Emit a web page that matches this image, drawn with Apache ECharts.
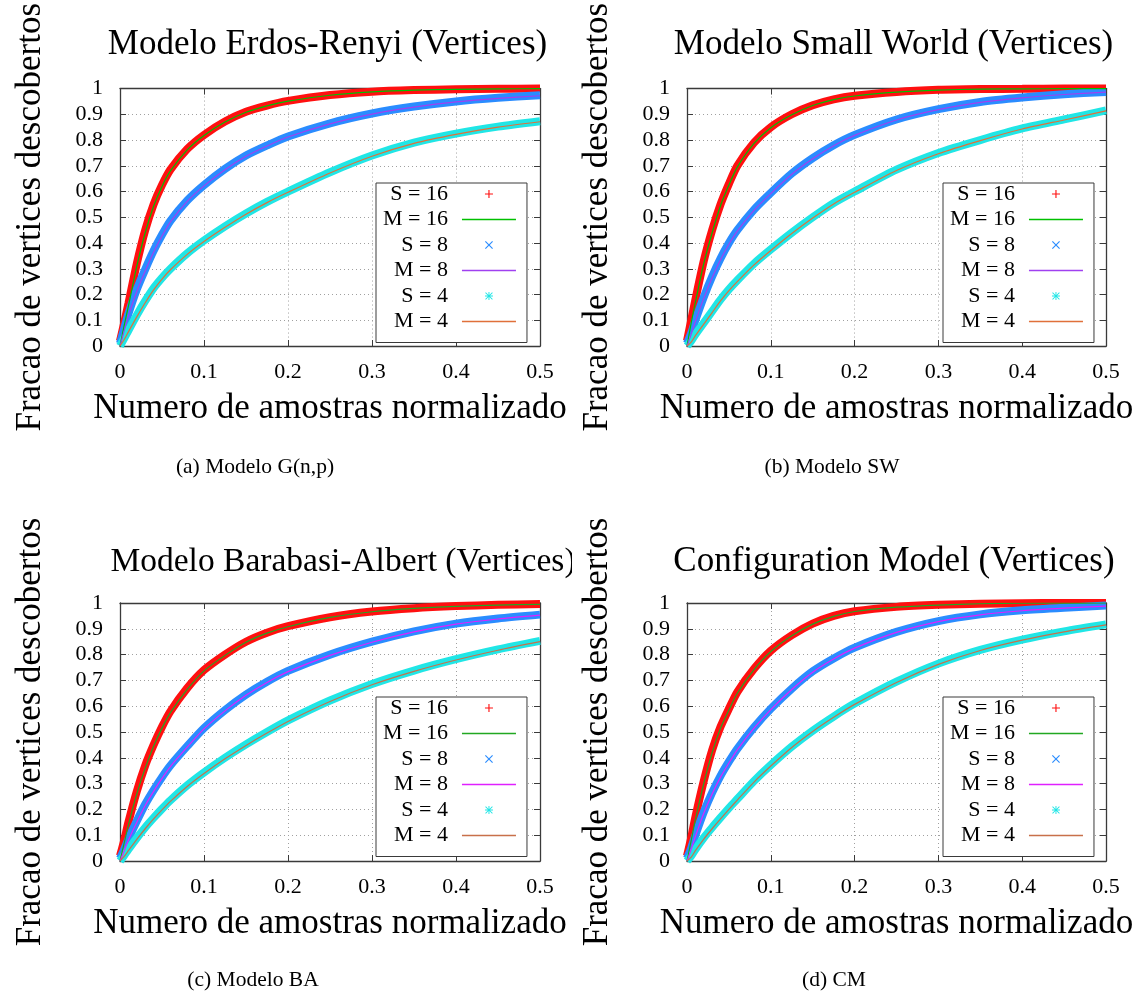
<!DOCTYPE html>
<html><head><meta charset="utf-8">
<script src="https://cdn.jsdelivr.net/npm/echarts@6/dist/echarts.min.js"></script>
<style>
html,body{margin:0;padding:0;background:#fff;width:1141px;height:997px;overflow:hidden}
.p{position:absolute;overflow:hidden}
</style></head><body>
<div id="pa" class="p" style="left:0;top:0;width:572px;height:500px"></div>
<div id="pb" class="p" style="left:572px;top:0;width:569px;height:500px"></div>
<div id="pc" class="p" style="left:0;top:513px;width:572px;height:484px"></div>
<div id="pd" class="p" style="left:572px;top:513px;width:569px;height:484px"></div>
<script>
// sample positions (normalized number of samples)
const xs = [0, 0.005, 0.01, 0.02, 0.03, 0.04, 0.05, 0.06, 0.08, 0.1, 0.125, 0.15, 0.175, 0.2, 0.25, 0.3, 0.35, 0.4, 0.45, 0.5];
const xTicks = [0, 0.1, 0.2, 0.3, 0.4, 0.5];
const yTicks = [0, 0.1, 0.2, 0.3, 0.4, 0.5, 0.6, 0.7, 0.8, 0.9, 1];
const seriesNames = ['S = 16', 'M = 16', 'S = 8', 'M = 8', 'S = 4', 'M = 4'];

// (a) Erdos-Renyi
const erS16 = [0.02,0.09,0.165,0.32,0.45,0.55,0.625,0.685,0.765,0.82,0.872,0.91,0.934,0.952,0.975,0.988,0.994,0.997,0.999,1.0];
const erM16 = [0.00,0.08,0.155,0.31,0.44,0.543,0.62,0.68,0.762,0.818,0.87,0.908,0.933,0.951,0.974,0.987,0.994,0.997,0.999,0.9995];
const erS8  = [0.01,0.068,0.125,0.22,0.298,0.37,0.432,0.486,0.565,0.625,0.688,0.74,0.779,0.814,0.865,0.903,0.93,0.95,0.964,0.974];
const erM8  = [0.00,0.06,0.117,0.212,0.291,0.364,0.427,0.482,0.562,0.622,0.685,0.737,0.777,0.812,0.863,0.901,0.928,0.948,0.962,0.972];
const erS4  = [0.00,0.03,0.06,0.12,0.175,0.225,0.265,0.30,0.36,0.41,0.465,0.515,0.56,0.60,0.675,0.74,0.79,0.825,0.852,0.873];
const erM4  = [0.00,0.025,0.055,0.113,0.168,0.218,0.26,0.296,0.356,0.406,0.461,0.512,0.557,0.597,0.672,0.737,0.787,0.822,0.85,0.871];

// (b) Small World
const swS16 = [0.02,0.10,0.18,0.33,0.45,0.55,0.63,0.70,0.79,0.85,0.90,0.935,0.958,0.972,0.987,0.995,0.998,0.999,1.0,1.0];
const swM16 = [0.00,0.09,0.17,0.32,0.44,0.545,0.625,0.695,0.787,0.848,0.898,0.934,0.957,0.971,0.986,0.994,0.998,0.999,0.9995,1.0];
const swS8  = [0.01,0.05,0.10,0.19,0.27,0.34,0.40,0.45,0.53,0.595,0.67,0.73,0.78,0.82,0.88,0.92,0.948,0.965,0.978,0.987];
const swM8  = [0.00,0.045,0.095,0.185,0.265,0.335,0.395,0.446,0.527,0.592,0.667,0.727,0.778,0.818,0.878,0.918,0.946,0.964,0.977,0.986];
const swS4  = [0.00,0.02,0.045,0.09,0.135,0.18,0.22,0.255,0.32,0.375,0.44,0.50,0.555,0.60,0.685,0.75,0.80,0.845,0.88,0.915];
const swM4  = [0.00,0.015,0.04,0.085,0.13,0.175,0.215,0.25,0.315,0.371,0.437,0.497,0.552,0.597,0.682,0.747,0.798,0.843,0.878,0.913];

// (c) Barabasi-Albert
const baS16 = [0.02,0.08,0.15,0.27,0.37,0.45,0.52,0.58,0.67,0.74,0.80,0.85,0.885,0.91,0.945,0.967,0.98,0.988,0.993,0.996];
const baM16 = [0.00,0.07,0.14,0.26,0.36,0.445,0.515,0.575,0.665,0.737,0.797,0.848,0.883,0.908,0.944,0.966,0.979,0.987,0.992,0.995];
const baS8  = [0.01,0.045,0.085,0.155,0.22,0.275,0.325,0.37,0.445,0.515,0.585,0.645,0.695,0.737,0.80,0.85,0.89,0.92,0.94,0.955];
const baM8  = [0.00,0.04,0.08,0.15,0.215,0.27,0.32,0.366,0.441,0.512,0.582,0.642,0.692,0.734,0.797,0.848,0.888,0.918,0.938,0.953];
const baS4  = [0.00,0.022,0.045,0.089,0.13,0.167,0.202,0.235,0.293,0.343,0.40,0.452,0.50,0.545,0.622,0.686,0.738,0.782,0.82,0.853];
const baM4  = [0.00,0.018,0.04,0.084,0.125,0.163,0.198,0.231,0.289,0.339,0.396,0.448,0.496,0.541,0.618,0.683,0.735,0.779,0.817,0.85];

// (d) Configuration Model
const cmS16 = [0.02,0.09,0.17,0.31,0.43,0.52,0.59,0.655,0.745,0.815,0.875,0.92,0.95,0.968,0.985,0.993,0.997,0.999,1.0,1.0];
const cmM16 = [0.00,0.08,0.16,0.30,0.42,0.515,0.585,0.65,0.742,0.812,0.873,0.918,0.948,0.967,0.984,0.992,0.997,0.999,0.9995,1.0];
const cmS8  = [0.01,0.05,0.10,0.19,0.265,0.33,0.385,0.435,0.518,0.59,0.668,0.735,0.785,0.827,0.888,0.93,0.956,0.972,0.982,0.99];
const cmM8  = [0.00,0.045,0.095,0.185,0.26,0.325,0.38,0.431,0.515,0.587,0.665,0.732,0.783,0.825,0.886,0.928,0.954,0.97,0.98,0.988];
const cmS4  = [0.00,0.02,0.045,0.09,0.13,0.168,0.205,0.24,0.31,0.372,0.443,0.505,0.56,0.61,0.695,0.765,0.818,0.858,0.89,0.917];
const cmM4  = [0.00,0.015,0.04,0.085,0.125,0.163,0.20,0.236,0.306,0.368,0.44,0.502,0.557,0.607,0.692,0.762,0.816,0.856,0.888,0.915];

const FONT = '"Liberation Serif", "DejaVu Serif", serif';
const PLUS = 'path://M4.3,0H5.7V4.3H10V5.7H5.7V10H4.3V5.7H0V4.3H4.3Z';
const CROSS = 'path://M0,1L1,0L5,4L9,0L10,1L6,5L10,9L9,10L5,6L1,10L0,9L4,5Z';
const STAR = 'path://M4.4,0H5.6V3.6L8.9,0.3L9.7,1.1L6.4,4.4H10V5.6H6.4L9.7,8.9L8.9,9.7L5.6,6.4V10H4.4V6.4L1.1,9.7L0.3,8.9L3.6,5.6H0V4.4H3.6L0.3,1.1L1.1,0.3L4.4,3.6Z';
const LINE = 'path://M0,0H100V2.8H0Z';

function pts(ys) { return xs.map((x, i) => [x, ys[i]]); }

function build(id, o) {
  const chart = echarts.init(document.getElementById(id), null, {renderer: 'canvas'});
  const axisCommon = {
    type: 'value',
    axisLine: {show: true, onZero: false, lineStyle: {color: '#3a3a3a', width: 1.3}},
    axisTick: {show: true, inside: true, length: 6, lineStyle: {color: '#3a3a3a', width: 1}},
  };
  const icons = [PLUS, LINE, CROSS, LINE, STAR, LINE];
  const series = o.data.map((ys, i) => {
    const isS = i % 2 === 0;
    return {
      name: seriesNames[i], type: 'line', data: pts(ys),
      symbol: 'none', smooth: 0.25, clip: !isS,
      lineStyle: {color: o.colors[i], width: isS ? 8 : 1.2},
      itemStyle: {color: o.colors[i]},
      z: isS ? 2 : 3, silent: true, animation: false
    };
  });
  chart.setOption({
    animation: false,
    title: [
      {text: o.title, left: o.titleX, top: o.titleTop, textAlign: 'center',
       textStyle: {fontFamily: FONT, fontSize: o.titleSize || 35, fontWeight: 'normal', color: '#000'}},
      {text: o.caption, left: o.capX, top: 451, textAlign: 'center',
       textStyle: {fontFamily: FONT, fontSize: 21.5, fontWeight: 'normal', color: '#000'}}
    ],
    grid: {left: o.gl, top: o.gt, width: o.gw, height: 258, containLabel: false},
    xAxis: [
      Object.assign({}, axisCommon, {
        position: 'bottom', min: xTicks[0], max: xTicks[xTicks.length - 1], interval: 0.1,
        axisLabel: {fontFamily: FONT, fontSize: 22, color: '#000', margin: 15},
        splitLine: {show: true, lineStyle: {color: '#a0a0a0', width: 1, type: [1, 3]}},
        name: 'Numero de amostras normalizado', nameLocation: 'middle', nameGap: 45,
        nameTextStyle: {fontFamily: FONT, fontSize: 35, color: '#000'}
      }),
      Object.assign({}, axisCommon, {
        position: 'top', min: xTicks[0], max: xTicks[xTicks.length - 1], interval: 0.1,
        axisLabel: {show: false}, splitLine: {show: false}
      })
    ],
    yAxis: [
      Object.assign({}, axisCommon, {
        position: 'left', min: yTicks[0], max: yTicks[yTicks.length - 1], interval: 0.1,
        axisLabel: {fontFamily: FONT, fontSize: 22, color: '#000', margin: 17},
        splitLine: {show: true, lineStyle: {color: '#a0a0a0', width: 1, type: [1, 3]}},
        name: 'Fracao de vertices descobertos', nameLocation: 'middle', nameGap: 72,
        nameTextStyle: {fontFamily: FONT, fontSize: 35, color: '#000'}
      }),
      Object.assign({}, axisCommon, {
        position: 'right', min: yTicks[0], max: yTicks[yTicks.length - 1], interval: 0.1,
        axisLabel: {show: false}, splitLine: {show: false}
      })
    ],
    legend: {
      orient: 'vertical', left: o.lx, top: o.ly, align: 'right',
      selectedMode: false,
      backgroundColor: '#fff', borderColor: '#3a3a3a', borderWidth: 1, borderRadius: 0,
      padding: [0, 11, 10, 7], itemGap: 3.5, itemWidth: 54, itemHeight: 8,
      textStyle: {fontFamily: FONT, fontSize: 22, color: '#000', width: 68, padding: [0, 9, 0, 0]},
      data: seriesNames.map((n, i) => ({name: n, icon: icons[i], itemStyle: {borderWidth: 0}}))
    },
    series: series
  });
}

const colAB = ['#ff1010', '#00c000', '#2a8cff', '#a040f0', '#20e6e6', '#e0703a'];
const colCD = ['#ff1010', '#22a822', '#2a8cff', '#e020ff', '#20e6e6', '#c8704a'];

build('pa', {title: 'Modelo Erdos-Renyi (Vertices)', titleX: 322.5, titleTop: 22, caption: '(a) Modelo G(n,p)', capX: 250,
  gl: 120, gt: 88, gw: 420, lx: 376, ly: 183, colors: colAB, data: [erS16, erM16, erS8, erM8, erS4, erM4]});
build('pb', {title: 'Modelo Small World (Vertices)', titleX: 316.5, titleTop: 22, caption: '(b) Modelo SW', capX: 255,
  gl: 115, gt: 88, gw: 419, lx: 371, ly: 183, colors: colAB, data: [swS16, swM16, swS8, swM8, swS4, swM4]});
build('pc', {title: 'Modelo Barabasi-Albert (Vertices)', titleX: 338, titleTop: 27, titleSize: 33.5, caption: '(c) Modelo BA', capX: 248,
  gl: 120, gt: 90, gw: 420, lx: 376, ly: 184, colors: colCD, data: [baS16, baM16, baS8, baM8, baS4, baM4]});
build('pd', {title: 'Configuration Model (Vertices)', titleX: 317, titleTop: 26, caption: '(d) CM', capX: 257,
  gl: 115, gt: 90, gw: 419, lx: 371, ly: 184, colors: colCD, data: [cmS16, cmM16, cmS8, cmM8, cmS4, cmM4]});
</script>
</body></html>
